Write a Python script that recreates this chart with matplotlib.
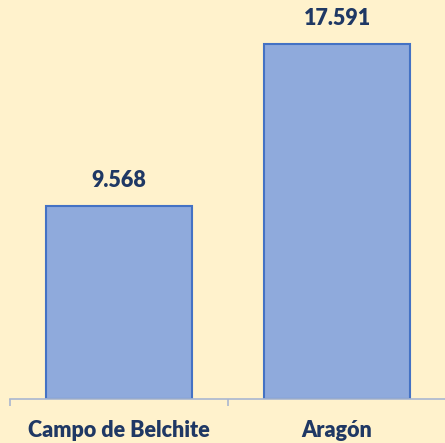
import matplotlib
matplotlib.use('Agg')
import matplotlib.pyplot as plt

categorias = ['Campo de Belchite', 'Aragón']
valores = [9.568, 17.591]
etiquetas = ['9.568', '17.591']

fondo = '#FFF2CC'
texto = '#1F3864'
fuente = ['Lato', 'DejaVu Sans']

fig = plt.figure(figsize=(4.45, 4.43), dpi=100, facecolor=fondo)
ax = fig.add_axes([10 / 445, 44 / 443, 436 / 445, 399 / 443])
ax.set_facecolor(fondo)

x = range(len(categorias))
barras = ax.bar(x, valores, width=0.67, color='#8FAADC', edgecolor='#4472C4', linewidth=1.5)

for b, t in zip(barras, etiquetas):
    ax.annotate(t, (b.get_x() + b.get_width() / 2, b.get_height()),
                xytext=(0, 18), textcoords='offset points',
                ha='center', va='center', fontsize=15.5, fontweight='heavy',
                color=texto, family=fuente)

ax.set_xlim(-0.5, 1.5)
ax.set_ylim(0, 19.77)
ax.set_yticks([])
for s in ['top', 'right', 'left']:
    ax.spines[s].set_visible(False)
ax.spines['bottom'].set_color('#A9B7D0')
ax.spines['bottom'].set_linewidth(1.2)

# marcas entre categorias, etiquetas centradas
ax.set_xticks([-0.5, 0.5, 1.5])
ax.set_xticklabels([])
ax.tick_params(axis='x', length=5, width=1.2, color='#A9B7D0')
ax.set_xticks(list(x), minor=True)
ax.set_xticklabels(categorias, minor=True, fontsize=15.5, fontweight='heavy',
                   color=texto, family=fuente)
ax.tick_params(axis='x', which='minor', length=0, pad=15)

fig.savefig('out.png', dpi=100, facecolor=fondo)
